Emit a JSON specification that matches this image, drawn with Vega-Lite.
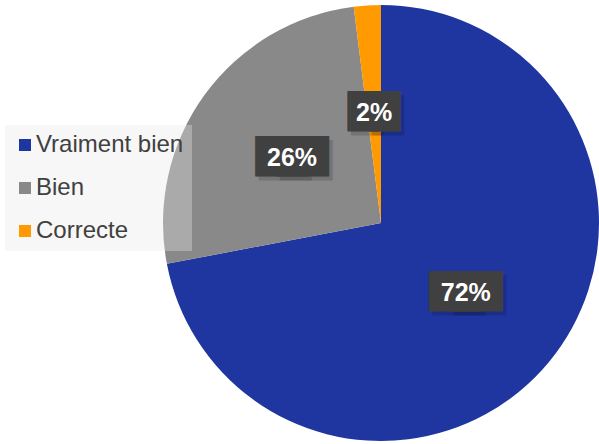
{
  "$schema": "https://vega.github.io/schema/vega-lite/v6.json",
  "width": 436,
  "height": 436,
  "padding": {"left": 163, "top": 5, "right": 0, "bottom": 3},
  "autosize": {"type": "none"},
  "background": "white",
  "config": {"view": {"stroke": null}},
  "data": {
    "values": [
      {"cat": "Vraiment bien", "value": 0.72, "ord": 1},
      {"cat": "Bien", "value": 0.26, "ord": 2},
      {"cat": "Correcte", "value": 0.02, "ord": 3}
    ]
  },
  "encoding": {
    "theta": {"field": "value", "type": "quantitative", "stack": true},
    "order": {"field": "ord", "type": "quantitative"},
    "detail": {"field": "cat", "type": "nominal"}
  },
  "layer": [
    {
      "mark": {"type": "arc"},
      "encoding": {
        "color": {
          "field": "cat",
          "type": "nominal",
          "scale": {"domain": ["Vraiment bien", "Bien", "Correcte"], "range": ["#1f36a0", "#898989", "#ff9a00"]},
          "legend": {
            "orient": "none",
            "legendX": -158,
            "legendY": 120,
            "title": null,
            "labelFont": "Liberation Sans",
            "labelFontSize": 24,
            "labelColor": "#404040",
            "labelOffset": -1,
            "symbolType": "square",
            "symbolSize": 144,
            "symbolStrokeWidth": 0,
            "symbolOpacity": 1,
            "padding": 8,
            "rowPadding": 19,
            "fillColor": "rgba(232,232,232,0.35)"
          }
        }
      }
    },
    {
      "mark": {"type": "text", "radius": 110, "font": "DejaVu Sans", "fontSize": 34, "baseline": "middle", "align": "center", "color": "#000000", "opacity": 0.15, "dx": -7, "dy": 4},
      "encoding": {
        "text": {"condition": {"test": "datum.value < 0.05", "value": "▕█▏"}, "value": "██"}
      }
    },
    {
      "mark": {"type": "text", "radius": 110, "font": "DejaVu Sans", "fontSize": 34, "baseline": "middle", "align": "center", "color": "#000000", "opacity": 0.15, "dx": 14, "dy": 4},
      "encoding": {
        "text": {"condition": {"test": "datum.value < 0.05", "value": "▕█▏"}, "value": "██"}
      }
    },
    {
      "mark": {"type": "text", "radius": 110, "font": "DejaVu Sans", "fontSize": 34, "baseline": "middle", "align": "center", "color": "#404040", "dx": -10.5},
      "encoding": {
        "text": {"condition": {"test": "datum.value < 0.05", "value": "▕█▏"}, "value": "██"}
      }
    },
    {
      "mark": {"type": "text", "radius": 110, "font": "DejaVu Sans", "fontSize": 34, "baseline": "middle", "align": "center", "color": "#404040", "dx": 10.5},
      "encoding": {
        "text": {"condition": {"test": "datum.value < 0.05", "value": "▕█▏"}, "value": "██"}
      }
    },
    {
      "mark": {"type": "text", "radius": 110, "font": "Liberation Sans", "fontSize": 25, "fontWeight": "bold", "baseline": "middle", "align": "center", "color": "white"},
      "encoding": {
        "text": {"field": "value", "type": "quantitative", "format": ".0%"}
      }
    }
  ]
}
